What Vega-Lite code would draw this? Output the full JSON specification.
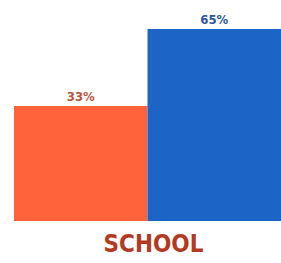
{
  "$schema": "https://vega.github.io/schema/vega-lite/v6.json",
  "width": 267,
  "height": 192,
  "autosize": "none",
  "padding": {"left": 14, "top": 29, "right": 0, "bottom": 42},
  "background": "white",
  "config": {"view": {"stroke": null}},
  "data": {"values": [
    {"group": "A", "value": 33, "label": "33%"},
    {"group": "B", "value": 65, "label": "65%"}
  ]},
  "encoding": {
    "x": {"field": "group", "type": "nominal", "scale": {"paddingInner": 0, "paddingOuter": 0},
      "axis": {"labels": false, "ticks": false, "domain": false, "title": "SCHOOL", "titleFont": "DejaVu Sans Condensed", "titleFontSize": 24, "titleFontWeight": "bold", "titleColor": "#b33a22", "titlePadding": 11, "titleX": 139, "titleAlign": "center"}},
    "y": {"field": "value", "type": "quantitative", "scale": {"domain": [-14.8, 65], "zero": false, "nice": false}, "axis": null}
  },
  "layer": [
    {"mark": {"type": "bar", "clip": true},
     "encoding": {"y2": {"datum": -14.8}, "color": {"field": "group", "type": "nominal", "scale": {"range": ["#fe633c", "#1c64c6"]}, "legend": null}}},
    {"mark": {"type": "text", "baseline": "bottom", "dy": -2, "font": "DejaVu Sans Condensed", "fontSize": 13, "fontWeight": "bold"},
     "encoding": {"text": {"field": "label"}, "color": {"field": "group", "type": "nominal", "scale": {"range": ["#b4573c", "#2b57a3"]}, "legend": null}}}
  ],
  "resolve": {"scale": {"color": "independent"}}
}
